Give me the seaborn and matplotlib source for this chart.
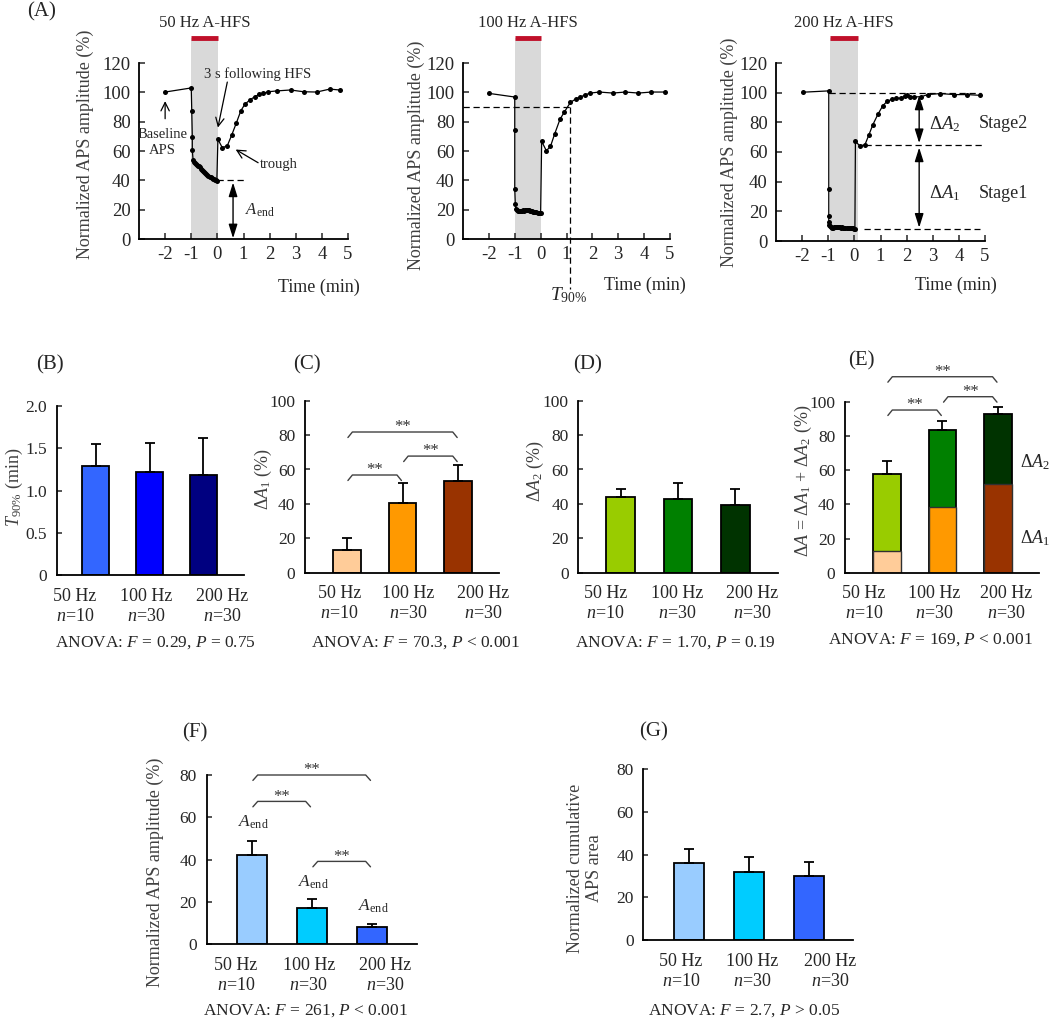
import matplotlib
matplotlib.use("Agg")
import matplotlib.pyplot as plt
from matplotlib.patches import Rectangle
import seaborn as sns

# ---------------- data ----------------
# Panel A: time courses (min, % baseline)
TIME_50 = [-2.0, -1.0, -0.98, -0.96, -0.96, -0.93, -0.90, -0.86, -0.82, -0.78, -0.74, -0.70, -0.66,
           -0.62, -0.58, -0.54, -0.50, -0.46, -0.42, -0.38, -0.34, -0.30, -0.26, -0.22, -0.18,
           -0.14, -0.10, -0.06, -0.02, 0.02, 0.19, 0.38, 0.55, 0.73, 0.90, 1.05, 1.24, 1.43, 1.60,
           1.75, 1.95, 2.30, 2.80, 3.30, 3.80, 4.30, 4.68]
AMP_50 = [100.2, 103.0, 87.0, 69.5, 60.5, 54.0, 52.5, 51.5, 51.0, 50.5, 50.0, 49.5, 48.8,
          48.0, 47.2, 46.5, 45.8, 45.0, 44.3, 43.6, 43.0, 42.5, 42.0, 41.5, 41.0,
          40.6, 40.3, 40.0, 39.8, 68.0, 62.2, 63.6, 70.9, 79.3, 87.5, 91.8, 94.8, 97.0, 98.6,
          99.3, 100.4, 101.0, 101.6, 100.4, 100.2, 102.2, 101.6]

TIME_100 = [-2.0, -1.0, -1.0, -1.0, -0.98, -0.96, -0.92, -0.88, -0.84, -0.80, -0.76, -0.72, -0.68,
            -0.64, -0.60, -0.56, -0.52, -0.48, -0.44, -0.40, -0.36, -0.32, -0.28, -0.24, -0.20,
            -0.16, -0.12, -0.08, -0.04, 0.0, 0.04, 0.22, 0.38, 0.54, 0.75, 0.91, 1.15, 1.35, 1.54,
            1.72, 1.92, 2.27, 2.79, 3.27, 3.78, 4.28, 4.80]
AMP_100 = [99.3, 96.8, 74.0, 34.3, 24.0, 20.5, 19.8, 19.4, 19.2, 19.2, 19.3, 19.4, 19.5,
           19.4, 19.5, 19.7, 19.6, 19.5, 19.5, 19.3, 19.0, 18.9, 18.7, 18.6, 18.4,
           18.2, 18.0, 17.8, 17.6, 17.4, 66.6, 60.2, 63.1, 71.5, 81.7, 86.4, 93.1, 95.4, 96.8,
           98.3, 99.5, 100.2, 99.5, 100.2, 99.5, 100.2, 100.2]

TIME_200 = [-1.98, -0.98, -0.98, -0.98, -0.98, -0.96, -0.94, -0.90, -0.86, -0.82, -0.78, -0.74,
            -0.70, -0.66, -0.62, -0.58, -0.54, -0.50, -0.46, -0.42, -0.38, -0.34, -0.30, -0.26,
            -0.22, -0.18, -0.14, -0.10, -0.06, -0.02, 0.02, 0.04, 0.20, 0.40, 0.55, 0.71, 0.90,
            1.09, 1.26, 1.44, 1.60, 1.77, 1.92, 2.02, 2.12, 2.28, 2.56, 2.81, 3.29, 3.83, 4.31, 4.82]
AMP_200 = [100.3, 101.2, 35.3, 16.6, 12.8, 10.6, 10.0, 9.3, 8.8, 9.0, 9.2, 9.3,
           9.4, 9.3, 9.2, 9.3, 9.2, 9.1, 9.2, 9.0, 9.1, 9.0, 8.9, 8.9,
           8.8, 8.7, 8.6, 8.6, 8.5, 8.4, 8.3, 67.2, 64.3, 64.7, 71.3, 78.5, 85.4,
           91.3, 94.2, 95.6, 96.4, 96.2, 97.6, 98.3, 96.9, 97.1, 97.3, 98.7, 99.4, 98.7, 98.7, 98.2]

HFS_WINDOWS = [(-1.02, 0.02), (-0.98, 0.03), (-0.95, 0.12)]
HFS_TITLES = ["50 Hz A-HFS", "100 Hz A-HFS", "200 Hz A-HFS"]
T90_EXAMPLE = 1.13
LEVEL_90 = 90
STAGE_LEVELS = [100, 64.5, 8.0]
AEND_EXAMPLE = 40

# Panels B-G: group summaries
CATS = ["50 Hz", "100 Hz", "200 Hz"]
N_TEXT = ["$n$=10", "$n$=30", "$n$=30"]

T90_MEAN = [1.29, 1.22, 1.19]
T90_ERR = [0.26, 0.34, 0.43]
DA1_MEAN = [13.2, 40.7, 53.3]
DA1_ERR = [7.1, 11.3, 9.3]
DA2_MEAN = [43.8, 42.8, 39.4]
DA2_ERR = [4.7, 9.5, 9.4]
DA_TOTAL = [57.8, 83.6, 93.0]
DA_TOTAL_ERR = [7.6, 5.5, 3.9]
DA_STAGE1 = [12.9, 38.7, 51.8]
AEND_MEAN = [42.1, 17.2, 7.9]
AEND_ERR = [6.8, 4.2, 1.6]
AREA_MEAN = [35.9, 32.0, 30.0]
AREA_ERR = [6.6, 7.0, 6.7]

ANOVA_B = "ANOVA: $F$ = 0.29, $P$ = 0.75"
ANOVA_C = "ANOVA: $F$ = 70.3, $P$ < 0.001"
ANOVA_D = "ANOVA: $F$ = 1.70, $P$ = 0.19"
ANOVA_E = "ANOVA: $F$ = 169, $P$ < 0.001"
ANOVA_F = "ANOVA: $F$ = 261, $P$ < 0.001"
ANOVA_G = "ANOVA: $F$ = 2.7, $P$ > 0.05"

SIG_C = [(0, 1, 56.8), (1, 2, 67.8), (0, 2, 81.8)]
SIG_E = [(0, 1, 95.3), (1, 2, 103.1), (0, 2, 114.8)]
SIG_F = [(0, 1, 67.5), (1, 2, 39.1), (0, 2, 80.0)]

COL_B = ["#3366ff", "#0000ff", "#000080"]
COL_C = ["#ffcc99", "#ff9900", "#993300"]
COL_D = ["#99cc00", "#008000", "#003300"]
COL_FG = ["#99ccff", "#00ccff", "#3366ff"]

# ---------------- style ----------------
sns.set_style("ticks")
plt.rcParams["font.family"] = ["Liberation Serif", "DejaVu Serif"]
plt.rcParams["mathtext.fontset"] = "custom"
plt.rcParams["mathtext.rm"] = "Liberation Serif"
plt.rcParams["mathtext.it"] = "Liberation Serif:italic"
plt.rcParams["mathtext.bf"] = "Liberation Serif:bold"
plt.rcParams["axes.unicode_minus"] = False
plt.rcParams["axes.linewidth"] = 1.3

W, H = 1050, 1021
fig = plt.figure(figsize=(W / 100, H / 100), dpi=100)
LABEL_COL = "#404040"


def rect(l, r, t, b):
    return [l / W, 1 - b / H, (r - l) / W, (b - t) / H]


def ftext(x, y, s, **kw):
    kw.setdefault("ha", "center")
    kw.setdefault("va", "center")
    fig.text(x / W, 1 - y / H, s, **kw)


def style_axes(ax):
    sns.despine(ax=ax)
    ax.spines["left"].set_color("black")
    ax.spines["bottom"].set_color("black")


# ---------------- Panel A ----------------
A_RECTS = [(139, 348, 63, 239), (463, 670, 63, 239), (776, 985, 63, 241)]
A_SERIES = [(TIME_50, AMP_50), (TIME_100, AMP_100), (TIME_200, AMP_200)]
A_YLAB = [(85, 144), (416.7, 155), (729.3, 152.5)]
A_TIME = [(360, 287), (686, 285), (997, 285)]
axA = []
for k in range(3):
    ax = fig.add_axes(rect(*A_RECTS[k]))
    axA.append(ax)
    t, a = A_SERIES[k]
    s0, s1 = HFS_WINDOWS[k]
    ax.add_patch(Rectangle((s0, 0), s1 - s0, 137, facecolor="#d9d9d9", lw=0, zorder=0, clip_on=False))
    ax.plot([s0, s1], [137, 137], color="#c0102a", lw=3.5, solid_capstyle="butt", clip_on=False)
    ax.text((s0 + s1) / 2, 147, HFS_TITLES[k], ha="center", va="center", fontsize=12)
    sns.lineplot(x=t, y=a, ax=ax, estimator=None, sort=False, color="black", lw=0.9,
                 marker="o", markersize=3.6, markeredgewidth=0, zorder=3)
    ax.set_xlim(-3, 5)
    ax.set_ylim(0, 120)
    ax.set_xticks(range(-2, 6))
    ax.set_yticks(range(0, 121, 20))
    ax.tick_params(direction="in", length=4, width=1.1, labelsize=13.5)
    ax.tick_params(axis="x", pad=5)
    ax.tick_params(axis="y", pad=6)
    ax.set_xlabel("")
    ax.set_ylabel("")
    style_axes(ax)
    ftext(*A_YLAB[k], "Normalized APS amplitude (%)", rotation=90, fontsize=13, color=LABEL_COL)
    ftext(A_TIME[k][0], A_TIME[k][1], "Time (min)", ha="right", fontsize=13)

arr2 = dict(arrowstyle="<|-|>,head_length=0.7,head_width=0.22", color="black", lw=1.0,
            shrinkA=0, shrinkB=0, mutation_scale=12)
arr1 = dict(arrowstyle="->,head_length=0.5,head_width=0.25", color="black", lw=0.9,
            shrinkA=0, shrinkB=0, mutation_scale=12)

ax = axA[0]
ax.annotate("", xy=(-2.0, 94), xytext=(-2.0, 82), arrowprops=arr1)
ax.text(-2.1, 66, "Baseline\nAPS", ha="center", va="center", fontsize=10.5, linespacing=1.3)
ax.annotate("", xy=(0.02, 76), xytext=(0.38, 107), arrowprops=arr1)
ax.text(1.53, 112.5, "3 s following HFS", ha="center", va="center", fontsize=10.5)
ax.annotate("", xy=(0.7, 61), xytext=(1.56, 52), arrowprops=arr1)
ax.text(2.35, 51, "trough", ha="center", va="center", fontsize=10.5)
ax.plot([0, 1.15], [AEND_EXAMPLE, AEND_EXAMPLE], color="black", lw=0.9, dashes=(5, 3))
ax.annotate("", xy=(0.6, 0.5), xytext=(0.6, AEND_EXAMPLE - 1.5), arrowprops=arr2)
ax.text(1.05, 19.8, r"$A_{\mathrm{end}}$", ha="left", va="center", fontsize=12)

ax = axA[1]
ax.plot([-3, T90_EXAMPLE], [LEVEL_90, LEVEL_90], color="black", lw=0.9, dashes=(5, 3))
ax.plot([T90_EXAMPLE, T90_EXAMPLE], [LEVEL_90, -34], color="black", lw=0.9, dashes=(5, 3),
        clip_on=False)
ax.text(T90_EXAMPLE - 0.05, -38, r"$T_{\mathrm{90\%}}$", ha="center", va="center", fontsize=14)

ax = axA[2]
ax.plot([-0.98, 4.85], [STAGE_LEVELS[0]] * 2, color="black", lw=0.9, dashes=(5, 3))
ax.plot([0.42, 4.96], [STAGE_LEVELS[1]] * 2, color="black", lw=0.9, dashes=(5, 3))
ax.plot([0.35, 4.8], [STAGE_LEVELS[2]] * 2, color="black", lw=0.9, dashes=(5, 3))
ax.annotate("", xy=(2.48, STAGE_LEVELS[0] - 2), xytext=(2.48, STAGE_LEVELS[1] + 1.5), arrowprops=arr2)
ax.annotate("", xy=(2.48, STAGE_LEVELS[1] - 1.5), xytext=(2.48, STAGE_LEVELS[2] + 1), arrowprops=arr2)
ax.text(2.84, 79, r"Δ$A_2$", ha="left", va="center", fontsize=13.5)
ax.text(4.77, 79, "Stage2", ha="left", va="center", fontsize=13)
ax.text(2.84, 32, r"Δ$A_1$", ha="left", va="center", fontsize=13.5)
ax.text(4.77, 32, "Stage1", ha="left", va="center", fontsize=13)

ftext(42, 12, "(A)", fontsize=15)


# ---------------- bar panels ----------------
def bar_panel(r, means, colors):
    ax = fig.add_axes(rect(*r))
    sns.barplot(x=CATS, y=means, hue=CATS, palette=colors, legend=False, width=0.5,
                saturation=1, edgecolor="black", linewidth=1.3, ax=ax, zorder=2)
    return ax


def finish_panel(ax, means, errs, ylim, yticks, yticklabels, xlim, label_pos):
    ax.errorbar(x=[0, 1, 2], y=means, yerr=[[0, 0, 0], errs], fmt="none", ecolor="black",
                elinewidth=1.3, capsize=3.5, capthick=1.3, zorder=3)
    ax.set_xlim(*xlim)
    ax.set_ylim(*ylim)
    ax.set_yticks(yticks)
    ax.set_yticklabels(yticklabels)
    ax.set_xticks(label_pos)
    ax.set_xticklabels([c + "\n" + n for c, n in zip(CATS, N_TEXT)], linespacing=1.25)
    ax.tick_params(axis="x", length=0, pad=9, labelsize=13)
    ax.tick_params(axis="y", direction="in", length=3.5, width=1.1, pad=7, labelsize=12.5)
    ax.set_xlabel("")
    ax.set_ylabel("")
    style_axes(ax)


def brackets(ax, sig, ymax):
    drop = 0.032 * ymax
    for i, j, y in sig:
        ax.plot([i + 0.02, i + 0.1, j - 0.1, j - 0.02], [y - drop, y, y, y - drop],
                color="#404040", lw=1.0, clip_on=False)
        ax.text((i + j) / 2, y + 0.004 * ymax, "**", ha="center", va="baseline",
                fontsize=12, color="#333333", clip_on=False)


# B
axB = bar_panel((56.7, 244, 406, 575.3), T90_MEAN, COL_B)
finish_panel(axB, T90_MEAN, T90_ERR, (0, 2.0), [0, 0.5, 1.0, 1.5, 2.0],
             ["0", "0.5", "1.0", "1.5", "2.0"], (-0.73, 2.76), [-0.39, 0.93, 2.35])
ftext(14, 487.5, r"$T_{\mathrm{90\%}}$ (min)", rotation=90, fontsize=13, color=LABEL_COL)
ftext(155, 643, ANOVA_B, fontsize=12.5)
ftext(50, 365, "(B)", fontsize=15)

# C
axC = bar_panel((305, 499, 400.7, 572.7), DA1_MEAN, COL_C)
finish_panel(axC, DA1_MEAN, DA1_ERR, (0, 100), range(0, 101, 20),
             [str(v) for v in range(0, 101, 20)], (-0.75, 2.73), [-0.13, 1.1, 2.45])
brackets(axC, SIG_C, 100)
ftext(263.3, 479, r"Δ$A_1$ (%)", rotation=90, fontsize=13, color=LABEL_COL)
ftext(415.7, 643, ANOVA_C, fontsize=12.5)
ftext(306.7, 365, "(C)", fontsize=15)

# D
axD = bar_panel((578.3, 778.3, 400.7, 572.7), DA2_MEAN, COL_D)
finish_panel(axD, DA2_MEAN, DA2_ERR, (0, 100), range(0, 101, 20),
             [str(v) for v in range(0, 101, 20)], (-0.74, 2.75), [-0.27, 0.98, 2.29])
ftext(535, 471, r"Δ$A_2$ (%)", rotation=90, fontsize=13, color=LABEL_COL)
ftext(675, 643, ANOVA_D, fontsize=12.5)
ftext(587.3, 365, "(D)", fontsize=15)

# E (stacked)
axE = fig.add_axes(rect(845, 1039.3, 402, 572.7))
sns.barplot(x=CATS, y=DA_TOTAL, hue=CATS, palette=COL_D, legend=False, width=0.5,
            saturation=1, edgecolor="black", linewidth=1.3, ax=axE, zorder=2)
sns.barplot(x=CATS, y=DA_STAGE1, hue=CATS, palette=COL_C, legend=False, width=0.5,
            saturation=1, edgecolor="#303030", linewidth=1.0, ax=axE, zorder=2)
finish_panel(axE, DA_TOTAL, DA_TOTAL_ERR, (0, 100), range(0, 101, 20),
             [str(v) for v in range(0, 101, 20)], (-0.75, 2.74), [-0.41, 0.86, 2.15])
brackets(axE, SIG_E, 100)
axE.text(2.4, 65, r"Δ$A_2$", ha="left", va="center", fontsize=13)
axE.text(2.4, 20, r"Δ$A_1$", ha="left", va="center", fontsize=13)
ftext(803.3, 480.8, r"Δ$A$ = Δ$A_1$ + Δ$A_2$ (%)", rotation=90, fontsize=13, color=LABEL_COL)
ftext(930, 640, ANOVA_E, fontsize=12.5)
ftext(861.7, 361, "(E)", fontsize=15)

# F
axF = bar_panel((206.7, 416.7, 775, 944), AEND_MEAN, COL_FG)
finish_panel(axF, AEND_MEAN, AEND_ERR, (0, 80), range(0, 81, 20),
             [str(v) for v in range(0, 81, 20)], (-0.75, 2.75), [-0.26, 0.95, 2.23])
brackets(axF, SIG_F, 80)
for i, yv in enumerate([57.4, 29.2, 17.7]):
    axF.text(i + 0.03, yv, r"$A_{\mathrm{end}}$", ha="center", va="center", fontsize=12.5)
ftext(155, 872.5, "Normalized APS amplitude (%)", rotation=90, fontsize=13, color=LABEL_COL)
ftext(305.7, 1010.7, ANOVA_F, fontsize=12.5)
ftext(195, 732.7, "(F)", fontsize=15)

# G
axG = bar_panel((643.3, 852.7, 769.3, 940), AREA_MEAN, COL_FG)
finish_panel(axG, AREA_MEAN, AREA_ERR, (0, 80), range(0, 81, 20),
             [str(v) for v in range(0, 81, 20)], (-0.76, 2.73), [-0.13, 1.06, 2.35])
ftext(585, 868, "Normalized cumulative\nAPS area", rotation=90, fontsize=13, color=LABEL_COL,
      linespacing=1.15, multialignment="center")
ftext(744, 1010.7, ANOVA_G, fontsize=12.5)
ftext(653.3, 731.7, "(G)", fontsize=15)

fig.savefig("out.png", dpi=100)
